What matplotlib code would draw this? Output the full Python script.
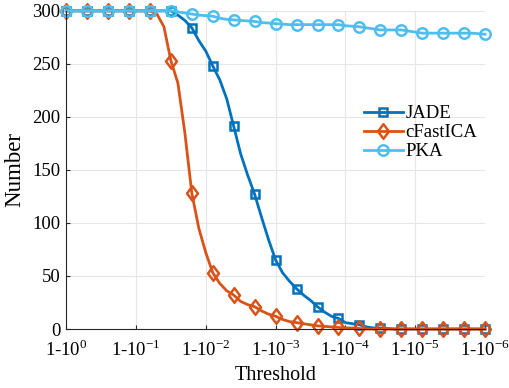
import numpy as np
import matplotlib.pyplot as plt
from matplotlib.path import Path

plt.rcParams['font.family'] = 'Liberation Serif'
plt.rcParams['mathtext.fontset'] = 'custom'
plt.rcParams['mathtext.rm'] = 'Liberation Serif'

# x = -log10(1 - threshold), sampled every 0.1 decade
x = np.round(np.arange(0, 6.01, 0.1), 1)

jade = [300] * 16 + [296, 291, 284, 272, 262, 248, 235, 217, 191, 165, 145, 127,
                     105, 84, 65, 53, 45, 38, 32, 27, 21, 16, 12, 10, 6, 5, 4, 2, 1, 1,
                     0.5] + [0] * 14
cfastica = [300] * 13 + [297, 285, 253, 232, 185, 128, 95, 72, 53, 43, 36, 32, 26,
                         23, 21, 17, 14, 12, 9, 7, 6, 5, 4, 3, 2.5, 2, 1.5, 1, 1,
                         0.5] + [0] * 18
pka = [300] * 16 + [299, 298, 297, 296, 295.5, 295, 293, 292, 291.5, 291, 290.5,
                    290, 289, 288.5, 288, 287.5] + [287] * 8 + \
      [286, 285.5, 285, 284, 283, 282, 282, 282, 282, 281, 280] + [279] * 8 + [278.5, 278]

xtick_labels = ['1-10$^{%d}$' % (-k) for k in range(7)]

# MATLAB-like diamond (a bit narrower than tall)
diamond = Path([(0, 1), (0.75, 0), (0, -1), (-0.75, 0), (0, 1)],
               [Path.MOVETO, Path.LINETO, Path.LINETO, Path.LINETO, Path.CLOSEPOLY])

fig = plt.figure(figsize=(5.09, 3.88), dpi=100)
ax = fig.add_axes([0.130, 0.152, 0.823, 0.820])

ax.plot(x, jade, color='#0072BD', lw=2, marker='s', ms=5.5, mfc='none', mew=1.8,
        markevery=3, label='JADE', clip_on=False)
ax.plot(x, cfastica, color='#D95319', lw=2, marker=diamond, ms=10.5, mfc='none', mew=1.8,
        markevery=3, label='cFastICA', clip_on=False)
ax.plot(x, pka, color='#4DBEEE', lw=2, marker='o', ms=7.5, mfc='none', mew=1.8,
        markevery=3, label='PKA', clip_on=False)

ax.set_xlim(0, 6)
ax.set_ylim(0, 300)
ax.set_xticks(range(7))
ax.set_xticklabels(xtick_labels)
ax.set_yticks(range(0, 301, 50))
ax.tick_params(labelsize=13.5, direction='in', length=3, color='#262626')
ax.tick_params(axis='y', pad=4)
ax.tick_params(axis='x', pad=7)
ax.grid(True, color='#e6e6e6', lw=0.8)
ax.set_axisbelow(True)
for s in ['top', 'right']:
    ax.spines[s].set_visible(False)
for s in ['left', 'bottom']:
    ax.spines[s].set_color('#262626')
    ax.spines[s].set_linewidth(0.8)

ax.set_xlabel('Threshold', fontsize=14.5, labelpad=5)
ax.set_ylabel('Number', fontsize=16.5, labelpad=5)
ax.legend(loc='center left', bbox_to_anchor=(0.692, 0.617), frameon=False,
          fontsize=13.5, handlelength=2.1, handletextpad=0.15, labelspacing=0.1,
          borderaxespad=0)

fig.savefig('out.png', dpi=100)
